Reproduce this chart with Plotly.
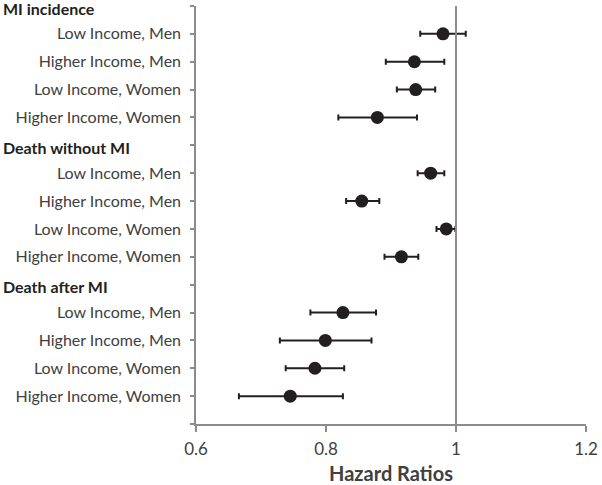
import plotly.graph_objects as go

# Rows (top to bottom); header rows have no estimate
row_labels = ["MI incidence", "Low Income, Men", "Higher Income, Men", "Low Income, Women", "Higher Income, Women",
              "Death without MI", "Low Income, Men", "Higher Income, Men", "Low Income, Women", "Higher Income, Women",
              "Death after MI", "Low Income, Men", "Higher Income, Men", "Low Income, Women", "Higher Income, Women"]
header_rows = [0, 5, 10]
data_rows = [1, 2, 3, 4, 6, 7, 8, 9, 11, 12, 13, 14]
hr = [0.980, 0.936, 0.938, 0.879, 0.961, 0.855, 0.985, 0.916, 0.826, 0.799, 0.783, 0.745]
ci_low = [0.945, 0.892, 0.909, 0.819, 0.941, 0.831, 0.970, 0.890, 0.776, 0.729, 0.738, 0.666]
ci_high = [1.015, 0.982, 0.968, 0.940, 0.982, 0.882, 0.999, 0.942, 0.877, 0.870, 0.828, 0.826]
x_ticks = [0.6, 0.8, 1.0, 1.2]
x_tick_text = ["0.6", "0.8", "1", "1.2"]

dark = "#231f20"
axis_col = "#8c8c8c"
txt_col = "#404040"
font_family = "Lato, 'Open Sans', sans-serif"

fig = go.Figure()
fig.add_trace(go.Scatter(
    x=hr, y=data_rows, mode="markers",
    marker=dict(size=13, color=dark),
    error_x=dict(type="data", symmetric=False,
                 array=[h - m for h, m in zip(ci_high, hr)],
                 arrayminus=[m - l for m, l in zip(hr, ci_low)],
                 color=dark, thickness=2, width=3),
    showlegend=False, hoverinfo="skip"))

tickvals = list(range(16))
ticktext = [("" if i in header_rows or i >= len(row_labels) else row_labels[i]) for i in tickvals]

for i in header_rows:
    fig.add_annotation(text="<b>" + row_labels[i] + "</b>", x=0, xref="paper", xshift=-195,
                       y=i, yref="y", yshift=-2, xanchor="left", showarrow=False,
                       font=dict(family=font_family, size=16, color=dark))

fig.add_shape(type="line", x0=1, x1=1, xref="x", y0=0, y1=1.0, yref="paper",
              line=dict(color=axis_col, width=2))

fig.update_layout(
    width=602, height=485,
    margin=dict(l=196, r=16, t=6, b=61, autoexpand=False),
    paper_bgcolor="white", plot_bgcolor="white",
    font=dict(family=font_family, color=txt_col),
    xaxis=dict(range=[0.6, 1.2], tickvals=x_ticks, ticktext=x_tick_text,
               showgrid=False, zeroline=False, showline=True, linecolor=axis_col, linewidth=1.5,
               ticks="outside", ticklen=6, tickcolor=axis_col, tickwidth=1.5, ticklabelstandoff=3,
               tickfont=dict(size=17, color=txt_col),
               title=dict(text="<b>Hazard Ratios</b>", font=dict(size=20, color=txt_col), standoff=11)),
    yaxis=dict(range=[15, 0], tickvals=tickvals, ticktext=ticktext,
               showgrid=False, zeroline=False, showline=True, linecolor=axis_col, linewidth=1.5,
               ticks="outside", ticklen=4, tickcolor=axis_col, tickwidth=1.5, ticklabelstandoff=6,
               tickfont=dict(size=16, color=txt_col)),
)

fig.write_html("out.html",
               config={"displayModeBar": False},
               post_script="document.body.style.margin='0';document.body.style.padding='0';"
                           "document.documentElement.style.overflow='hidden';")
